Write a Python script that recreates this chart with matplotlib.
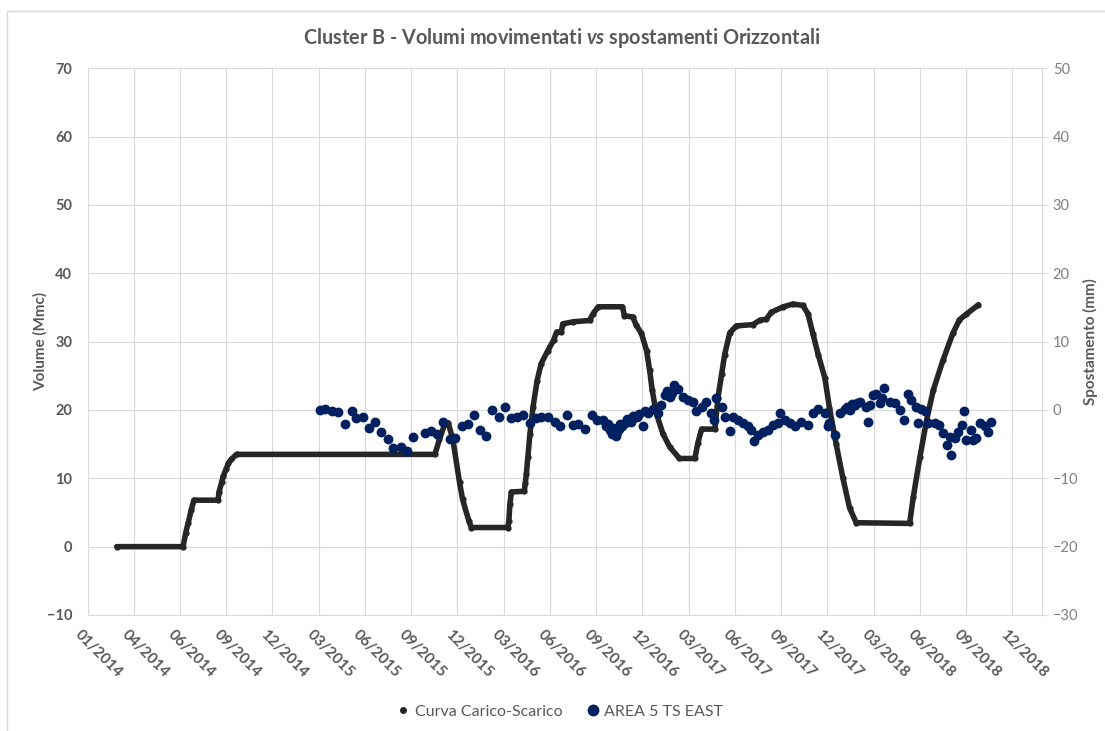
import matplotlib
matplotlib.use("Agg")
import matplotlib.pyplot as plt
import matplotlib.dates as mdates
from matplotlib.lines import Line2D
from matplotlib.patches import Rectangle
from matplotlib.transforms import ScaledTranslation
import pandas as pd

# Curva Carico-Scarico (Volume, Mmc)
curve_dates = [
    '2014-02-27', '2014-07-06', '2014-07-11', '2014-07-16', '2014-07-22', '2014-07-27',
    '2014-09-12', '2014-09-14', '2014-09-19', '2014-09-22', '2014-09-28', '2014-10-02',
    '2014-10-08', '2014-10-18',
    '2015-11-08', '2015-11-17', '2015-11-27', '2015-12-04', '2015-12-13', '2015-12-26',
    '2016-01-01', '2016-01-13', '2016-01-18', '2016-03-29', '2016-03-31', '2016-04-02',
    '2016-04-05', '2016-04-30', '2016-05-02', '2016-05-04', '2016-05-07', '2016-05-11',
    '2016-05-17', '2016-05-25', '2016-06-02', '2016-06-15', '2016-06-26', '2016-07-02',
    '2016-07-11', '2016-07-14', '2016-08-03', '2016-09-04', '2016-09-11', '2016-09-21',
    '2016-11-07', '2016-11-11', '2016-11-27', '2016-12-04', '2016-12-14', '2016-12-24',
    '2016-12-30',
    '2017-01-04', '2017-01-12', '2017-01-25', '2017-02-07', '2017-02-26', '2017-03-28',
    '2017-04-03', '2017-04-10', '2017-05-06', '2017-05-12', '2017-05-19', '2017-05-25',
    '2017-06-04', '2017-06-17', '2017-07-19', '2017-08-01', '2017-08-14', '2017-08-24',
    '2017-09-16', '2017-10-05', '2017-10-24', '2017-11-03', '2017-11-13', '2017-11-23',
    '2017-12-06', '2017-12-15', '2017-12-28',
    '2018-01-10', '2018-01-23', '2018-02-05', '2018-05-20', '2018-05-27', '2018-06-09',
    '2018-06-22', '2018-07-05', '2018-07-24', '2018-08-12', '2018-08-25', '2018-09-07',
    '2018-10-01',
]
curve_values = [
    0.0, 0.0, 2.0, 3.5, 5.4, 6.8,
    6.8, 8.0, 9.4, 10.3, 11.4, 12.2,
    12.8, 13.5,
    13.5, 15.7, 17.9, 18.1, 15.7, 9.4,
    6.9, 3.8, 2.8, 2.8, 3.8, 6.2,
    8.0, 8.1, 9.3, 10.6, 13.1, 16.5,
    20.4, 24.3, 26.8, 28.7, 30.2, 31.4,
    31.4, 32.6, 32.9, 33.1, 34.1, 35.1,
    35.1, 33.8, 33.6, 32.4, 31.2, 28.7,
    25.8,
    22.9, 19.5, 16.5, 14.6, 12.9, 12.9,
    15.2, 17.2, 17.2, 21.8, 25.2, 28.1,
    31.3, 32.3, 32.5, 33.1, 33.3, 34.3,
    35.1, 35.5, 35.3, 34.1, 31.1, 28.1,
    24.7, 20.3, 15.0,
    10.1, 5.7, 3.5, 3.4, 7.2, 13.1,
    18.5, 22.9, 27.3, 31.2, 33.2, 34.0,
    35.4,
]

# AREA 5 TS EAST (spostamento, mm)
ts_dates = [
    # 2015
    '2015-03-29', '2015-04-09', '2015-04-21', '2015-05-04', '2015-05-17', '2015-05-30',
    '2015-06-08', '2015-06-21', '2015-07-03', '2015-07-15', '2015-07-27', '2015-08-08',
    '2015-08-19', '2015-09-03', '2015-09-14', '2015-09-26', '2015-10-19', '2015-10-31',
    '2015-11-13', '2015-11-24', '2015-12-07', '2015-12-18', '2015-12-30',
    # 2016
    '2016-01-12', '2016-01-23', '2016-02-04', '2016-02-16', '2016-02-28', '2016-03-11',
    '2016-03-23', '2016-04-05', '2016-04-16', '2016-04-28',
    '2016-05-11', '2016-05-22', '2016-06-02', '2016-06-15', '2016-06-28', '2016-07-08',
    '2016-07-22', '2016-08-02', '2016-08-13', '2016-08-26',
    '2016-09-08', '2016-09-19', '2016-09-30', '2016-10-07', '2016-10-10', '2016-10-13',
    '2016-10-17', '2016-10-20', '2016-10-25', '2016-10-28',
    '2016-10-31', '2016-11-03', '2016-11-07', '2016-11-13', '2016-11-16', '2016-11-20',
    '2016-11-24', '2016-11-28', '2016-12-05', '2016-12-10',
    '2016-12-17', '2016-12-21', '2016-12-27',
    # 2017
    '2017-01-06', '2017-01-15', '2017-01-22', '2017-01-28', '2017-02-01', '2017-02-07',
    '2017-02-12', '2017-02-16', '2017-02-23', '2017-03-05',
    '2017-03-15', '2017-03-24', '2017-03-31', '2017-04-10', '2017-04-19', '2017-04-29',
    '2017-05-04', '2017-05-09', '2017-05-19', '2017-05-25',
    '2017-06-04', '2017-06-10', '2017-06-20', '2017-06-30', '2017-07-09', '2017-07-16',
    '2017-07-21', '2017-07-29', '2017-08-08', '2017-08-18',
    '2017-08-28', '2017-09-06', '2017-09-09', '2017-09-19', '2017-09-29', '2017-10-08',
    '2017-10-21', '2017-11-03', '2017-11-13', '2017-11-23',
    '2017-12-06', '2017-12-12', '2017-12-14', '2017-12-25',
    # 2018
    '2018-01-04', '2018-01-14', '2018-01-18', '2018-01-23', '2018-01-28', '2018-02-02',
    '2018-02-07', '2018-02-12', '2018-02-25', '2018-02-28',
    '2018-03-03', '2018-03-10', '2018-03-16', '2018-03-23', '2018-03-28', '2018-04-01',
    '2018-04-11', '2018-04-21', '2018-05-01', '2018-05-10',
    '2018-05-17', '2018-05-23', '2018-06-02', '2018-06-05', '2018-06-12', '2018-06-18',
    '2018-06-25', '2018-07-08', '2018-07-17', '2018-07-24',
    '2018-07-31', '2018-08-06', '2018-08-09', '2018-08-16', '2018-08-22', '2018-08-29',
    '2018-09-03', '2018-09-07', '2018-09-16', '2018-09-20',
    '2018-09-27', '2018-10-03', '2018-10-13', '2018-10-19', '2018-10-26',
]
ts_values = [
    # 2015
    0.0, 0.1, -0.2, -0.3, -2.0, -0.1,
    -1.2, -1.1, -2.7, -1.8, -3.2, -4.2,
    -5.5, -5.4, -6.0, -3.9, -3.3, -3.1,
    -3.5, -1.7, -4.3, -4.1, -2.3,
    # 2016
    -2.0, -0.8, -2.9, -3.8, 0.0, -1.1,
    0.5, -1.2, -1.1, -0.8,
    -1.9, -1.2, -1.0, -1.1, -1.7, -2.3,
    -0.7, -2.2, -2.1, -2.8,
    -0.7, -1.4, -1.5, -2.3, -2.0, -3.0,
    -3.5, -2.7, -3.8, -3.2,
    -2.8, -2.0, -2.3, -1.9, -1.3, -1.5,
    -1.7, -0.9, -1.0, -0.6,
    -2.4, -0.2, -0.4,
    # 2017
    0.1, -0.5, 0.7, 2.2, 2.8, 1.9,
    2.5, 3.7, 3.0, 1.9,
    1.4, 1.1, -0.2, 0.5, 1.2, -0.5,
    -1.4, 1.7, 0.5, -1.0,
    -3.1, -1.0, -1.4, -1.9, -2.4, -2.9,
    -4.5, -3.7, -3.2, -2.9,
    -2.2, -1.9, -0.4, -1.5, -1.9, -2.4,
    -1.7, -2.2, -0.5, 0.2,
    -0.5, -2.4, -1.9, -3.7,
    # 2018
    -0.5, 0.2, 0.4, 0.0, 0.9, 0.7,
    1.0, 1.2, 0.5, -1.7,
    0.8, 2.2, 2.4, 1.0, 1.8, 3.2,
    1.2, 1.0, 0.0, -1.4,
    2.4, 1.5, 0.5, -1.9, 0.2, -0.2,
    -1.9, -1.9, -2.2, -3.4,
    -5.1, -3.9, -6.6, -4.1, -3.2, -2.2,
    -0.2, -4.4, -2.9, -4.4,
    -4.1, -1.9, -2.4, -3.2, -1.7,
]

series_labels = ['Curva Carico-Scarico', 'AREA 5 TS EAST']

GRID = '#d9d9d9'
TEXT = '#595959'
BLACK = '#262626'
NAVY = '#002060'


def plot_cluster_b():
    plt.rcParams['font.family'] = ['Lato', 'DejaVu Sans']
    plt.rcParams['mathtext.fontset'] = 'custom'
    plt.rcParams['mathtext.it'] = 'Lato:italic:bold'

    fig = plt.figure(figsize=(11.05, 7.31), dpi=100)
    ax = fig.add_axes([0.0792, 0.1587, 0.8635, 0.7479])

    # volume curve (left axis)
    ax.plot(pd.to_datetime(curve_dates), curve_values, color=BLACK, lw=4,
            marker='o', ms=3.5, solid_joinstyle='round', solid_capstyle='round', zorder=3)

    # displacement time series (right axis)
    ax2 = ax.twinx()
    ax2.scatter(pd.to_datetime(ts_dates), ts_values, s=50, color=NAVY, linewidths=0, zorder=3)

    ax.set_ylim(-10, 70)
    ax.set_yticks(range(-10, 71, 10))
    ax2.set_ylim(-30, 50)
    ax2.set_yticks(range(-30, 51, 10))

    # Excel date axis: major unit 90 days starting 01/01/2014
    ax.set_xticks(pd.date_range('2014-01-01', periods=21, freq='90D'))
    ax.set_xlim(pd.Timestamp('2014-01-01'), pd.Timestamp('2019-02-01'))
    ax.xaxis.set_major_formatter(mdates.DateFormatter('%m/%Y'))

    ax.grid(True, color=GRID, lw=0.8)
    ax.set_axisbelow(True)

    ax.tick_params(axis='x', length=0, pad=15, labelsize=11, labelcolor=TEXT)
    ax.tick_params(axis='y', length=0, pad=11, labelsize=10.5, labelcolor=TEXT)
    ax2.tick_params(axis='y', length=4, color=GRID, pad=4, labelsize=10.5, labelcolor='#7f7f7f')
    shift = ScaledTranslation(-10 / 100, 3 / 100, fig.dpi_scale_trans)
    for lab in ax.get_xticklabels():
        lab.set_rotation(-45)
        lab.set_ha('left')
        lab.set_va('center')
        lab.set_rotation_mode('anchor')
        lab.set_fontweight('bold')
        lab.set_transform(lab.get_transform() + shift)
    for lab in ax.get_yticklabels():
        lab.set_fontweight('bold')

    for side in ['top', 'right']:
        ax.spines[side].set_visible(False)
    for side in ['left', 'bottom']:
        ax.spines[side].set_color(GRID)
    for side in ['top', 'left', 'bottom']:
        ax2.spines[side].set_visible(False)
    ax2.spines['right'].set_color(GRID)

    fig.text(0.5086, 1 - 38 / 731,
             r'Cluster B - Volumi movimentati $\mathit{vs}$ spostamenti Orizzontali',
             ha='center', va='center', fontsize=14.3, fontweight='bold', color=TEXT)
    fig.text(40 / 1105, 0.533, 'Volume (Mmc)', rotation=90, ha='center', va='center',
             fontsize=11, fontweight='bold', color=TEXT)
    fig.text(1090 / 1105, 0.533, 'Spostamento (mm)', rotation=90, ha='center', va='center',
             fontsize=11, fontweight='bold', color=TEXT)

    handles = [Line2D([], [], ls='', marker='o', ms=4, color=BLACK),
               Line2D([], [], ls='', marker='o', ms=7.5, color=NAVY)]
    fig.legend(handles, series_labels, loc='center', bbox_to_anchor=(0.506, 0.026),
               ncol=2, frameon=False, fontsize=11.5, labelcolor=TEXT,
               handletextpad=0.2, columnspacing=1.4, handlelength=1.0)

    # light chart border like the Excel chart area
    fig.add_artist(Rectangle((7 / 1105, -0.1), 1.2, 1.1 - 11 / 731, transform=fig.transFigure,
                             fill=False, ec=GRID, lw=1))

    fig.savefig('out.png', dpi=100)


if __name__ == "__main__":
    plot_cluster_b()
